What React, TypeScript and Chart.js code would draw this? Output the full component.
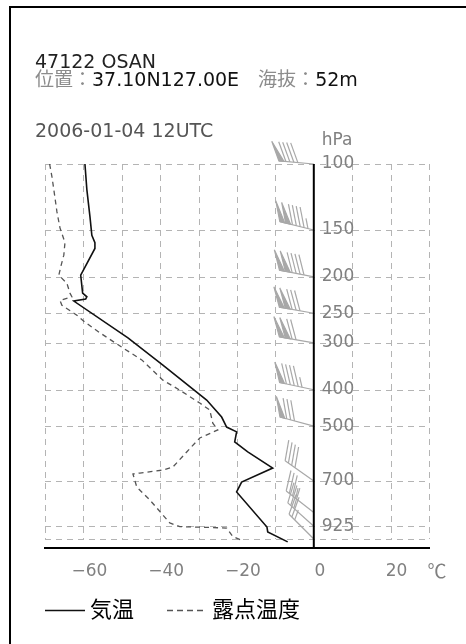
import React, { useEffect, useRef } from "react";
import { Chart, registerables } from "chart.js";

Chart.register(...registerables);

const FONT = '"DejaVu Sans", "Noto Sans CJK JP", sans-serif';
const CJK = '"Noto Sans CJK JP", "DejaVu Sans", sans-serif';
const LABEL_FS = 17;

// Axis definitions
const pressureTicks = [100, 150, 200, 250, 300, 400, 500, 700, 925, 1000];
const tempGrid = [-70, -60, -50, -40, -30, -20, -10, 0, 10, 20, 30];
const tempLabels = [-60, -40, -20, 0, 20];
const tempUnit = "℃";

// Temperature profile (hPa, °C)
const tempP = [100, 117, 138, 155, 162, 168, 198, 221, 226, 229, 232, 291, 344, 426, 473, 503, 518, 551, 586, 647, 705, 749, 929, 958, 1018];
const tempT = [-59.6, -59.1, -58.3, -57.8, -57.0, -57.0, -60.7, -60.2, -59.1, -59.4, -62.5, -48.4, -39.3, -27.9, -24.0, -22.7, -20.1, -20.6, -17.2, -10.7, -18.8, -20.1, -12.2, -12.0, -6.8];

// Dew point profile (hPa, °C)
const dewP = [100, 108, 123, 134, 148, 162, 175, 188, 198, 208, 221, 226, 231, 238, 253, 264, 282, 308, 333, 377, 401, 434, 453, 491, 512, 538, 586, 643, 655, 667, 671, 727, 787, 906, 927, 930, 935, 985, 1012];
const dewT = [-68.8, -68.2, -67.4, -66.9, -66.1, -64.8, -65.1, -65.9, -66.4, -64.3, -63.5, -63.0, -66.1, -65.6, -61.7, -59.6, -55.7, -50.0, -44.8, -39.3, -34.9, -29.7, -27.1, -26.3, -25.0, -29.7, -33.1, -36.7, -39.3, -45.3, -47.1, -46.1, -42.7, -37.5, -34.9, -29.7, -22.7, -21.1, -18.5];

// Winds (hPa, direction deg, speed kt)
const windP = [100, 150, 200, 250, 300, 400, 500, 700, 850, 925, 1000];
const windDir = [275, 284, 281, 280, 280, 282, 285, 305, 308, 312, 315];
const windSpd = [90, 145, 140, 130, 120, 95, 80, 40, 35, 30, 25];

function drawBarb(ctx: CanvasRenderingContext2D, bx: number, by: number, dir: number, spd: number) {
  const rad = (dir * Math.PI) / 180;
  const ux = Math.sin(rad);
  const uy = -Math.cos(rad);
  const a = (65 * Math.PI) / 180;
  const vx = ux * Math.cos(a) - uy * Math.sin(a);
  const vy = ux * Math.sin(a) + uy * Math.cos(a);
  const L = 35;
  const len = 21;
  const fw = 5;
  const sp = 4;
  ctx.beginPath();
  ctx.moveTo(bx, by);
  ctx.lineTo(bx + ux * L, by + uy * L);
  ctx.stroke();
  let s = Math.round(spd / 5) * 5;
  const flags = Math.floor(s / 50);
  s -= flags * 50;
  const full = Math.floor(s / 10);
  s -= full * 10;
  const half = s >= 5 ? 1 : 0;
  let d = L;
  for (let i = 0; i < flags; i++) {
    const px = bx + ux * d;
    const py = by + uy * d;
    const qx = bx + ux * (d - fw);
    const qy = by + uy * (d - fw);
    ctx.beginPath();
    ctx.moveTo(px, py);
    ctx.lineTo(px + vx * len, py + vy * len);
    ctx.lineTo(qx, qy);
    ctx.closePath();
    ctx.fill();
    ctx.stroke();
    d -= fw + 1;
  }
  if (flags > 0) d -= 1;
  for (let i = 0; i < full; i++) {
    const px = bx + ux * d;
    const py = by + uy * d;
    ctx.beginPath();
    ctx.moveTo(px, py);
    ctx.lineTo(px + vx * len, py + vy * len);
    ctx.stroke();
    d -= sp;
  }
  if (half) {
    if (flags === 0 && full === 0) d -= sp;
    const px = bx + ux * d;
    const py = by + uy * d;
    ctx.beginPath();
    ctx.moveTo(px, py);
    ctx.lineTo(px + (vx * len) / 2, py + (vy * len) / 2);
    ctx.stroke();
  }
}

const soundingPlugin = {
  id: "sounding",
  beforeDatasetsDraw(chart: any) {
    const { ctx, scales, chartArea } = chart;
    const x = scales.x;
    const y = scales.y;
    ctx.save();
    const xl = x.getPixelForValue(tempGrid[0]);
    const xr = x.getPixelForValue(tempGrid[tempGrid.length - 1]);
    const yt = y.getPixelForValue(pressureTicks[0]);
    const yb = y.getPixelForValue(pressureTicks[pressureTicks.length - 1]);
    // dashed grid
    ctx.strokeStyle = "#b4b4b4";
    ctx.lineWidth = 1;
    ctx.setLineDash([6, 5]);
    for (const p of pressureTicks) {
      const py = Math.round(y.getPixelForValue(p)) + 0.5;
      ctx.beginPath();
      ctx.moveTo(xl, py);
      ctx.lineTo(xr, py);
      ctx.stroke();
    }
    for (const t of tempGrid) {
      if (t === 0) continue;
      const px = Math.round(x.getPixelForValue(t)) + 0.5;
      ctx.beginPath();
      ctx.moveTo(px, yt);
      ctx.lineTo(px, yb);
      ctx.stroke();
    }
    ctx.setLineDash([]);
    // wind barbs
    const x0 = x.getPixelForValue(0);
    ctx.strokeStyle = "#a8a8a8";
    ctx.fillStyle = "#a8a8a8";
    ctx.lineWidth = 1.2;
    for (let i = 0; i < windP.length; i++) {
      drawBarb(ctx, x0, y.getPixelForValue(windP[i]), windDir[i], windSpd[i]);
    }
    // pressure labels
    ctx.fillStyle = "#808080";
    ctx.font = `${LABEL_FS}px ${FONT}`;
    ctx.textAlign = "left";
    ctx.textBaseline = "middle";
    for (const p of pressureTicks) {
      if (p === 1000) continue;
      ctx.fillText(String(p), x0 + 8, y.getPixelForValue(p));
    }
    ctx.fillText("hPa", x0 + 8, yt - 23);
    // vertical axis line
    ctx.strokeStyle = "#000";
    ctx.lineWidth = 2;
    ctx.beginPath();
    ctx.moveTo(x0, yt);
    ctx.lineTo(x0, chartArea.bottom);
    ctx.stroke();
    ctx.restore();
  },
  afterDraw(chart: any) {
    const { ctx, chartArea, scales } = chart;
    ctx.save();
    ctx.textBaseline = "middle";
    // unit label next to the last temperature tick
    ctx.font = `19px ${CJK}`;
    ctx.fillStyle = "#808080";
    ctx.textAlign = "center";
    ctx.fillText(tempUnit, scales.x.getPixelForValue(tempGrid[tempGrid.length - 1]) + 8, 571);
    // legend
    ctx.font = `22px ${CJK}`;
    ctx.textAlign = "left";
    let lx = chartArea.left;
    const ly = 610;
    chart.data.datasets.forEach((ds: any) => {
      ctx.setLineDash(ds.legendDash || []);
      ctx.strokeStyle = ds.borderColor;
      ctx.lineWidth = ds.borderWidth;
      ctx.beginPath();
      ctx.moveTo(lx, ly + 0.5);
      ctx.lineTo(lx + 40, ly + 0.5);
      ctx.stroke();
      ctx.setLineDash([]);
      ctx.fillStyle = "#000";
      ctx.fillText(ds.label, lx + 45, ly - 1);
      lx += 45 + ctx.measureText(ds.label).width + 33;
    });
    ctx.restore();
  },
};

export default function App() {
  const ref = useRef<HTMLCanvasElement | null>(null);
  useEffect(() => {
    if (!ref.current) return;
    const chart = new Chart(ref.current, {
      type: "line",
      data: {
        datasets: [
          {
            label: "気温",
            data: tempP.map((p, i) => ({ x: tempT[i], y: p })),
            borderColor: "#111",
            borderWidth: 1.6,
            pointRadius: 0,
            tension: 0,
            fill: false,
          } as any,
          {
            label: "露点温度",
            data: dewP.map((p, i) => ({ x: dewT[i], y: p })),
            borderColor: "#555",
            borderWidth: 1.3,
            borderDash: [5, 4],
            legendDash: [6, 4],
            pointRadius: 0,
            tension: 0,
            fill: false,
          } as any,
        ],
      },
      options: {
        animation: false,
        responsive: false,
        maintainAspectRatio: false,
        layout: { padding: { left: 45, right: 37, top: 164, bottom: 0 } },
        scales: {
          x: {
            type: "linear",
            min: -70,
            max: 30,
            grid: { display: false, drawTicks: false },
            border: { display: true, color: "#000", width: 2 },
            ticks: {
              stepSize: 10,
              autoSkip: false,
              maxRotation: 0,
              color: "#808080",
              padding: 13,
              labelOffset: 6,
              font: { family: FONT, size: LABEL_FS },
              callback: (v: any) => {
                const n = Number(v);
                if (!tempLabels.includes(n)) return "";
                return n < 0 ? "\u2212" + String(-n) : String(n);
              },
            },
            afterFit: (s: any) => {
              s.height = 96;
            },
          },
          y: {
            type: "logarithmic",
            reverse: true,
            min: 100,
            max: 1057,
            display: false,
          },
        },
        plugins: {
          legend: { display: false },
          tooltip: { enabled: false },
        },
      },
      plugins: [soundingPlugin],
    });
    return () => chart.destroy();
  }, []);

  const gray = "#8c8c8c";
  const row = { position: "absolute" as const, left: 35, fontSize: 19, lineHeight: "20px", whiteSpace: "pre" as const, fontFamily: FONT };
  return (
    <div style={{ position: "absolute", left: 0, top: 0, width: 466, height: 644, background: "#fff", overflow: "hidden", fontFamily: FONT }}>
      <canvas ref={ref} width={466} height={644} style={{ position: "absolute", left: 0, top: 0, display: "block" }} />
      <div style={{ position: "absolute", left: 9, top: 6, width: 500, height: 700, borderTop: "2px solid #000", borderLeft: "2px solid #000" }} />
      <div style={{ ...row, top: 51, color: "#222" }}>47122 OSAN</div>
      <div style={{ ...row, top: 69, color: "#111" }}>
        <span style={{ color: gray }}>位置：</span>37.10N127.00E<span style={{ color: gray }}>{"　海抜："}</span>52m
      </div>
      <div style={{ ...row, top: 120, color: "#555" }}>2006-01-04 12UTC</div>
    </div>
  );
}
